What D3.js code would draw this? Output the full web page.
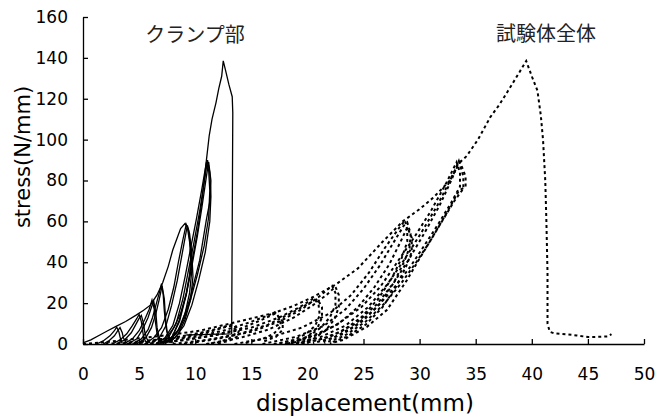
<!DOCTYPE html>
<html>
<head>
<meta charset="utf-8">
<script src="https://cdn.jsdelivr.net/npm/d3@7"></script>
<style>
  body { margin: 0; background: #fff; }
  .tick text { font-family: "DejaVu Sans", sans-serif; font-size: 17px; fill: #000; }
  .ttl { font-family: "DejaVu Sans", sans-serif; font-size: 23px; fill: #000; }
  .jp { font-family: "Noto Sans CJK JP", sans-serif; font-size: 20px; fill: #222; }
</style>
</head>
<body>
<div id="chart"></div>
<script>
// tick values
const xTicks = [0, 5, 10, 15, 20, 25, 30, 35, 40, 45, 50]
const yTicks = [0, 20, 40, 60, 80, 100, 120, 140, 160]

// clamp part (solid): [displacement mm, stress N/mm]
const clamp8 = [
  [[1.2,0],[1.8,1.5],[2.4,4],[2.8,6.5],[3.0,8.3],[3.2,6],[3.3,3.5],[3.4,1.5],[3.5,0.3]],
  [[1.8,0],[2.3,1.5],[2.8,4],[3.1,6.5],[3.3,8],[3.5,5.5],[3.6,3],[3.8,1],[4.0,0]]
]
const clamp14 = [
  [[2.6,0],[3.3,2],[3.9,5],[4.4,9],[4.8,12.5],[5.0,14.5],[5.2,11],[5.3,7],[5.4,3.5],[5.6,1],[5.8,0]],
  [[3.0,0],[3.7,2],[4.3,5.5],[4.7,9.5],[5.0,12.5],[5.2,14],[5.4,10],[5.5,6],[5.7,2.5],[6.0,0.5]]
]
const clamp20 = [
  [[3.6,0],[4.4,2.5],[5.0,6.5],[5.5,12],[5.9,17],[6.15,21.5],[6.35,17],[6.45,11],[6.6,5],[6.8,1.5],[7.0,0]],
  [[4.0,0],[4.8,2.5],[5.3,7],[5.8,13],[6.1,18],[6.3,21],[6.5,15],[6.6,8],[6.8,3],[7.1,0.5]]
]
const clamp28 = [
  [[4.4,0],[5.2,2.5],[5.8,7],[6.2,13],[6.5,19],[6.8,25],[7.0,29.5],[7.15,24],[7.25,16],[7.4,8],[7.6,3],[7.9,0.5]],
  [[4.8,0],[5.6,3],[6.1,8],[6.5,15],[6.8,22],[7.05,28.5],[7.25,22],[7.35,13],[7.5,6],[7.8,2],[8.1,0.3]]
]
const clamp60 = [
  [[0,0.5],[0.7,2],[1.5,4.4],[2.2,6.5],[2.9,8.5],[3.8,11],[4.7,14],[5.4,16.5],[6.0,19],[6.6,24],[7.1,30],[7.6,38],[8.0,46],[8.4,52],[8.7,56.5],[9.1,59],[9.3,57],
   [9.5,50],[9.6,42],[9.5,33],[9.2,24],[8.7,15],[8.1,8],[7.4,3],[6.6,0.5]],
  [[5.5,0],[6.3,3],[7.0,8],[7.6,17],[8.1,28],[8.5,40],[8.9,51],[9.2,58.5],[9.4,56],[9.6,47],[9.7,36],[9.5,25],[9.1,15],[8.5,7],[7.7,2],[7.0,0.3]],
  [[6.0,0],[6.8,3],[7.4,9],[7.9,19],[8.4,31],[8.8,43],[9.1,52],[9.3,58],[9.5,54],[9.7,44],[9.8,33],[9.6,22],[9.1,12],[8.5,5],[7.8,1]]
]
const clamp90 = [
  [[6.5,0],[7.3,3],[8.0,9],[8.6,20],[9.1,33],[9.6,47],[10.1,61],[10.6,76],[11.0,89],[11.2,85],[11.3,75],[11.2,62],[10.8,48],[10.2,34],[9.6,22],[9.0,12],[8.3,5],[7.5,1]],
  [[6.8,0],[7.6,3],[8.3,10],[8.9,22],[9.4,36],[9.9,50],[10.4,65],[10.8,79],[11.1,90],[11.3,84],[11.4,72],[11.3,60],[10.9,45],[10.3,31],[9.7,19],[9.0,9],[8.2,3],[7.4,0.5]],
  [[7.1,0],[7.9,3],[8.6,11],[9.2,24],[9.7,38],[10.2,53],[10.6,67],[11.0,82],[11.2,89],[11.4,80],[11.35,71],[11.0,61],[10.4,41],[9.5,21.6],[8.6,7],[7.8,2.5],[7.1,0.5]]
]
const clampFinal = [[7.3,0],[8.0,4],[8.6,12],[9.2,25],[9.7,40],[10.2,55],[10.6,70],[11.0,90],[11.25,102],[11.5,110],[11.85,118],[12.1,125],[12.36,131],[12.5,138.5],
  [12.7,134],[13.0,127],[13.3,121],[13.35,113],[13.3,60],[13.25,5],[12.0,4.8],[10.5,4.6],[9.2,4.4]]

// whole specimen (dashed)
const whole8 = [
  [[2,0],[5,1.2],[8,3],[10.5,5.5],[12.3,8],[13.2,9.5],[13.6,7],[13.5,4.5],[13,2.5],[12,0.8],[11,0]],
  [[3,0],[6,1.3],[9,3.3],[11.3,6],[12.8,8.5],[13.5,9],[13.9,6.5],[13.7,3.5],[13,1.5],[12,0.2]]
]
const whole14 = [
  [[4,0],[7,1.5],[10,3.5],[12.5,6.5],[14.8,10.5],[16.5,14],[17.1,15.5],[17.6,12],[17.6,8.5],[17,5],[16,2.5],[14.5,0.5]],
  [[5.5,0],[8.5,1.5],[11.5,4],[14,7.5],[15.8,11.5],[17.2,15],[17.8,11],[17.8,7],[17.2,3.5],[16,1]]
]
const whole20 = [
  [[6,0],[9,2],[12,4.5],[15,8],[17.5,13],[19.3,18],[20.6,22.5],[21.0,19],[21.1,14],[20.7,9],[19.9,5],[18.8,2],[17.5,0.3]],
  [[8,0],[11,2],[14,5],[16.5,9.5],[18.5,15],[20,19.5],[20.9,22],[21.3,18],[21.3,13],[20.9,8],[20.1,4],[19,1],[18,0]]
]
const whole28 = [
  [[9,0],[12,2.5],[15,6],[17.5,11],[19.5,17],[21,23],[22.2,28.5],[22.5,25],[22.5,19],[22.0,13],[21.2,8],[20,3.5],[18.5,0.5]],
  [[11,0],[14,3],[16.5,7],[18.8,13],[20.5,19],[21.7,24],[22.5,28],[22.8,24],[22.8,18],[22.4,12],[21.6,6.5],[20.4,2],[19,0]]
]
const whole60 = [
  [[13.5,0],[16.5,3],[19.5,8],[22,15],[23.9,24],[25.5,35],[26.9,47],[28.2,57],[28.7,60.5],[28.9,56],[28.9,50],[28.4,42],[27.5,32],[26.3,22],[24.8,13],[23,6],[21,2],[19,0.3]],
  [[16,0],[19,3.5],[21.5,9],[23.4,17],[25,27],[26.4,38],[27.6,49],[28.6,58],[28.9,59.5],[29.2,54],[29.1,47],[28.6,40],[27.7,30],[26.5,20],[25,11.5],[23.2,5],[21.3,1]],
  [[18,0],[20.5,3.5],[22.8,10],[24.5,18],[26,28],[27.3,39],[28.3,50],[28.9,57],[29.3,52],[29.3,45],[28.8,38],[27.9,28],[26.7,18],[25.2,9.5],[23.5,3.5],[22,0.5]]
]
const whole90 = [
  [[17,0],[20,3],[22.5,9],[24.8,18],[26.5,28],[28,40],[29.5,52],[31,65],[32.4,79],[33.3,89],[33.6,84],[33.6,77],[32.8,69],[31.7,59],[30.4,48],[29.2,38],[27.8,28],[26.2,18],[24.3,9],[22.3,3],[20.5,0.5]],
  [[19.5,0],[22,3.5],[24.3,10],[26.2,19.5],[27.7,30],[29,41],[30.4,54],[31.8,68],[32.9,81],[33.5,89.5],[33.9,82],[33.9,76],[33.1,70],[32.1,61],[30.9,50],[29.7,40],[28.4,30],[26.9,20],[25.2,11],[23.3,4],[21.5,0.5]],
  [[18.5,0],[21,3],[23.4,9],[25.4,18],[27.1,29],[28.6,41],[30.1,54],[31.6,68],[32.8,81],[33.6,89],[34.1,82],[34.1,77],[33.5,75],[32.4,64],[30.9,50],[29.8,40],[28.9,31.5],[27.1,16.7],[25.3,8.4],[23.2,2],[22,0.3]]
]
const wholeFinal = [[0,0],[2.5,1.2],[5,2.8],[7.5,4.3],[10.4,6.5],[13.1,10],[15,12.5],[16.9,15],[18.7,18.5],[20.5,23],[22.5,29],[24.5,37],[26.7,50],[28.5,60],[30,66],
  [31.2,71.5],[32.7,80],[33.4,88],[34.2,92],[35.2,100],[36.3,111],[37.1,117],[37.9,124],[38.9,133],[39.5,138.5],[40.0,131],[40.5,124],[40.8,112],[41.0,100],
  [41.2,80],[41.3,60],[41.4,35],[41.4,10],[41.6,6],[42,5.2],[43,4.8],[44,4.2],[45,3.4],[46,3.5],[46.8,3.7],[47.1,4.8]]

const width = 657, height = 418

const svg = d3.select("#chart").append("svg")
    .attr("width", width)
    .attr("height", height)

const x = d3.scaleLinear().domain([0, 50]).range([83, 644])
const y = d3.scaleLinear().domain([0, 160]).range([344, 17])

const line = d3.line()
    .x(d => x(d[0]))
    .y(d => y(d[1]))

// axes, ticks pointing inside
const xAxis = svg.append("g")
    .attr("transform", `translate(0,${y(0)})`)
    .call(d3.axisBottom(x).tickValues(xTicks).tickSizeInner(-5).tickSizeOuter(0).tickPadding(0))
xAxis.selectAll("text").attr("y", 24)

const yAxis = svg.append("g")
    .attr("transform", `translate(${x(0)},0)`)
    .call(d3.axisLeft(y).tickValues(yTicks).tickSizeInner(-5).tickSizeOuter(0).tickPadding(15))

svg.selectAll(".domain, .tick line").attr("stroke", "#000").attr("stroke-width", 1.3)

// whole specimen curves
const wholeAll = [].concat(whole8, whole14, whole20, whole28, whole60, whole90, [wholeFinal])
svg.append("g")
    .selectAll("path")
    .data(wholeAll)
    .enter()
    .append("path")
    .attr("d", line)
    .attr("fill", "none")
    .attr("stroke", "#000")
    .attr("stroke-width", 2)
    .attr("stroke-dasharray", "3,3")

// clamp curves
const clampAll = [].concat(clamp8, clamp14, clamp20, clamp28, clamp60, clamp90, [clampFinal])
svg.append("g")
    .selectAll("path")
    .data(clampAll)
    .enter()
    .append("path")
    .attr("d", line)
    .attr("fill", "none")
    .attr("stroke", "#000")
    .attr("stroke-width", 1.3)

// labels
svg.append("text")
    .attr("class", "ttl")
    .attr("x", 365)
    .attr("y", 411)
    .attr("text-anchor", "middle")
    .text("displacement(mm)")

svg.append("text")
    .attr("class", "ttl")
    .attr("transform", "translate(30,157) rotate(-90)")
    .attr("text-anchor", "middle")
    .style("font-size", "21px")
    .text("stress(N/mm)")

svg.append("text")
    .attr("class", "jp")
    .attr("x", 195)
    .attr("y", 42)
    .attr("text-anchor", "middle")
    .text("クランプ部")

svg.append("text")
    .attr("class", "jp")
    .attr("x", 546)
    .attr("y", 41)
    .attr("text-anchor", "middle")
    .text("試験体全体")
</script>
</body>
</html>
